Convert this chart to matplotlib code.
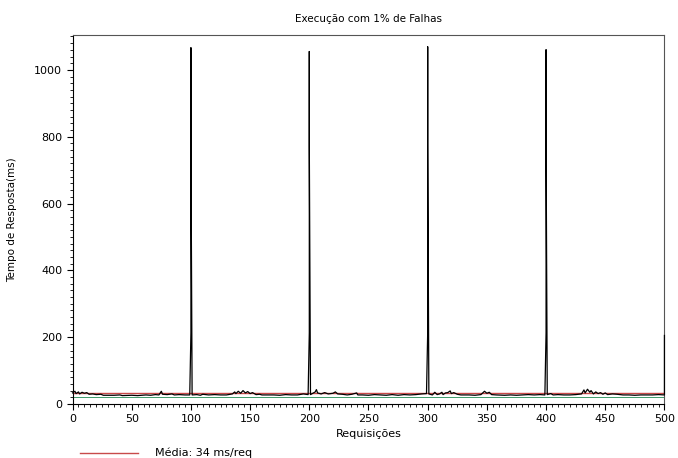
import matplotlib
matplotlib.use('Agg')
import matplotlib.pyplot as plt
from matplotlib.ticker import MultipleLocator

plt.rcParams.update({'font.family': 'DejaVu Sans', 'font.size': 7.5})

# Response time per request (ms), 1% failure run
# (failed requests are logged several times under the same request number)
req = [0, 2, 3, 5, 6, 8, 10, 12, 14, 17, 20, 24, 26, 35, 40, 42, 50, 55, 62, 66,
       70, 73, 75, 76, 80, 84, 86, 90, 95, 99, 100, 100, 100, 101, 105, 108, 110,
       115, 120, 125, 130, 135, 137, 138, 140, 142, 144, 146, 148, 150, 152, 155,
       158, 160, 170, 175, 180, 185, 190, 195, 199, 200, 200, 200, 201, 205, 206,
       207, 210, 213, 216, 220, 222, 224, 228, 232, 236, 240, 241, 245, 250, 255,
       260, 265, 270, 275, 280, 285, 290, 295, 299, 300, 300, 300, 301, 304, 306,
       308, 310, 312, 313, 315, 317, 319, 320, 322, 325, 328, 335, 340, 345, 348,
       350, 352, 354, 358, 365, 370, 375, 380, 385, 390, 395, 399, 400, 400, 400,
       401, 404, 406, 410, 415, 420, 425, 430, 432, 433, 435, 437, 438, 440, 442,
       444, 446, 448, 450, 452, 456, 460, 465, 470, 475, 480, 485, 490, 495, 500,
       500]
tempo = [33, 38, 31, 36, 30, 35, 32, 34, 29, 30, 28, 29, 26, 26, 27, 25, 26, 25, 27, 26,
         28, 27, 38, 29, 28, 30, 27, 28, 27, 27, 213, 1066, 778, 27, 28, 26, 29,
         27, 28, 27, 27, 30, 36, 31, 38, 32, 40, 33, 37, 31, 34, 28,
         29, 27, 27, 26, 28, 27, 27, 30, 28, 213, 1055, 772, 28, 36, 43,
         33, 30, 34, 30, 32, 36, 30, 29, 27, 29, 33, 27, 27, 26, 28,
         27, 26, 28, 26, 28, 27, 28, 30, 31, 213, 1069, 778, 30, 27, 35,
         28, 30, 35, 28, 33, 34, 39, 31, 34, 29, 27, 27, 26, 28, 38,
         32, 35, 28, 27, 26, 27, 26, 27, 28, 27, 28, 27, 213, 1060, 778,
         28, 31, 27, 28, 27, 27, 28, 30, 42, 33, 44, 35, 40, 30, 36,
         31, 34, 29, 33, 28, 30, 29, 27, 27, 26, 27, 27, 27, 28, 27,
         205]
media = 34
base = 22

fig = plt.figure(figsize=(6.78, 4.58), dpi=100)
ax = fig.add_axes([0.107, 0.118, 0.873, 0.806])

ax.axhline(media, color='#c84a4a', lw=1.0)
ax.axhline(base, color='#3f9a6a', lw=0.7)
ax.plot(req, tempo, color='black', lw=0.9, zorder=3, clip_on=False)

ax.set_xlim(0, 500)
ax.set_ylim(0, 1105)
ax.xaxis.set_major_locator(MultipleLocator(50))
ax.xaxis.set_minor_locator(MultipleLocator(5))
ax.yaxis.set_major_locator(MultipleLocator(200))
ax.yaxis.set_minor_locator(MultipleLocator(20))
ax.tick_params(which='major', length=4, width=0.8, direction='out', labelsize=8)
ax.tick_params(which='minor', length=2, width=0.6, direction='out')

for side in ('top', 'right'):
    ax.spines[side].set_color('#555555')
    ax.spines[side].set_linewidth(0.8)
for side in ('left', 'bottom'):
    ax.spines[side].set_linewidth(0.8)

ax.set_title('Execução com 1% de Falhas', fontsize=7.5, pad=9)
ax.set_xlabel('Requisições', fontsize=8, labelpad=3)
ax.set_ylabel('Tempo de Resposta(ms)', fontsize=7.5, labelpad=12)

# legend entry below the axes
fig.lines.append(plt.Line2D([80 / 678, 138 / 678], [1 - 453 / 458] * 2,
                            color='#c84a4a', lw=1.0, transform=fig.transFigure))
fig.text(155 / 678, 1 - 453 / 458, f'Média: {media} ms/req', fontsize=8, va='center')

plt.savefig('out.png', dpi=100)
